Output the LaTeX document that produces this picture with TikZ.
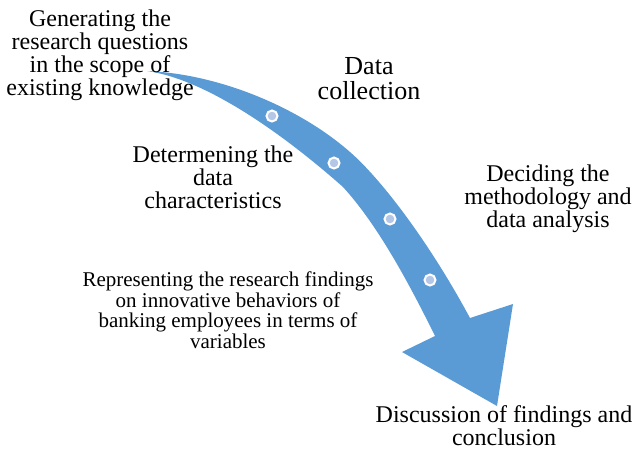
\documentclass[tikz,border=0pt]{standalone}
\usepackage{fontspec}
\setmainfont{Liberation Serif}
\usepackage{xcolor}
\usetikzlibrary{positioning}

\definecolor{arrowblue}{HTML}{5B9BD5}
\definecolor{dotblue}{HTML}{B4C7E7}

\begin{document}
\begin{tikzpicture}[x=1pt, y=-1pt,
    stage/.style={align=center, inner sep=0pt, font=\fontsize{24}{23}\selectfont},
    bigstage/.style={stage, font=\fontsize{26}{25}\selectfont},
    smallstage/.style={stage, font=\fontsize{21}{20.5}\selectfont},
    dot/.style={circle, fill=dotblue, draw=white, line width=2pt, minimum size=11pt, inner sep=0pt}]

    \useasboundingbox (0,0) rectangle (633,451);

    % Curved arrow
    \fill[arrowblue] (147,71) .. controls (220,74) and (300,108) .. (350,152)
        .. controls (380,178) and (428,240) .. (470,318)
        -- (513,304) -- (497,406) -- (402,352) -- (435,336)
        .. controls (405,275) and (375,222) .. (343,187)
        .. controls (290,140) and (210,80) .. (147,71) -- cycle;

    % Dots on the arrow
    \node[dot] (d1) at (272,116) {};
    \node[dot] (d2) at (334,163) {};
    \node[dot] (d3) at (390,219) {};
    \node[dot] (d4) at (430,280) {};

    % Stage labels
    \node[stage] (questions) at (100,55) {Generating the\\research questions\\in the scope of\\existing knowledge};
    \node[bigstage] (collection) at (369,79) {Data\\collection};
    \node[stage] (characteristics) at (213,177) {Determening the\\data\\characteristics};
    \node[stage] (methodology) at (548,199) {Deciding the\\methodology and\\data analysis};
    \node[smallstage] (findings) at (228,310) {Representing the research findings\\on innovative behaviors of\\banking employees in terms of\\variables};
    \node[stage] (discussion) at (504,426) {Discussion of findings and\\conclusion};

\end{tikzpicture}
\end{document}
